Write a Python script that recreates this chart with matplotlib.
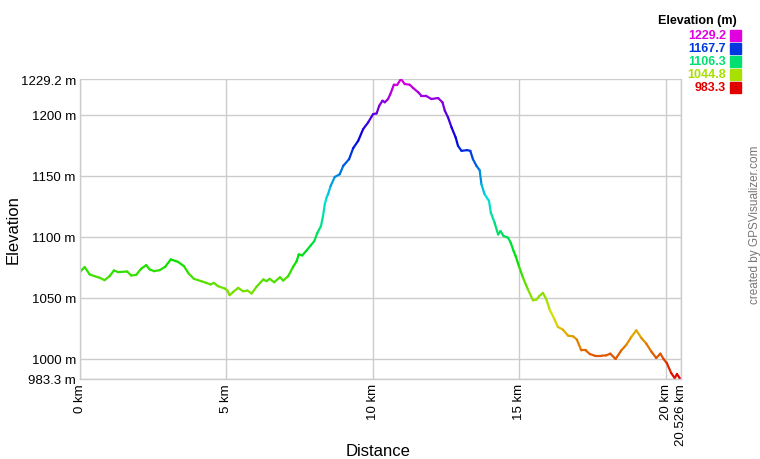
import numpy as np
import matplotlib
matplotlib.use("Agg")
import matplotlib.pyplot as plt
from matplotlib.collections import LineCollection
from matplotlib.colors import hsv_to_rgb

plt.rcParams['font.family'] = ['Liberation Sans', 'DejaVu Sans']

# distance (km) and elevation (m)
DIST_KM = [0.00, 0.02, 0.16, 0.33, 0.50, 0.67, 0.84, 1.01, 1.16, 1.30, 1.61, 1.75, 1.92,
           2.09, 2.26, 2.38, 2.53, 2.72, 2.91, 3.10, 3.34, 3.55, 3.71, 3.89, 4.14, 4.31,
           4.46, 4.57, 4.71, 4.94, 5.03, 5.11, 5.22, 5.40, 5.57, 5.72, 5.86, 6.03, 6.26,
           6.37, 6.48, 6.63, 6.83, 6.94, 7.11, 7.28, 7.40, 7.47, 7.59, 7.74, 7.88, 8.00,
           8.11, 8.23, 8.30, 8.36, 8.42, 8.47, 8.56, 8.70, 8.87, 8.99, 9.19, 9.33, 9.50,
           9.67, 9.84, 10.01, 10.13, 10.22, 10.33, 10.41, 10.52, 10.60, 10.72, 10.83,
           10.96, 11.09, 11.26, 11.38, 11.55, 11.66, 11.81, 12.00, 12.23, 12.38, 12.46,
           12.57, 12.69, 12.83, 12.91, 13.03, 13.22, 13.33, 13.42, 13.54, 13.65, 13.71,
           13.82, 13.97, 14.03, 14.16, 14.28, 14.36, 14.47, 14.62, 14.71, 14.81, 14.88,
           14.99, 15.13, 15.30, 15.47, 15.59, 15.68, 15.81, 15.93, 16.04, 16.21, 16.32,
           16.49, 16.67, 16.84, 16.97, 17.12, 17.27, 17.41, 17.58, 17.81, 17.98, 18.11,
           18.29, 18.49, 18.66, 18.83, 19.00, 19.17, 19.34, 19.51, 19.68, 19.82, 19.93,
           20.04, 20.19, 20.31, 20.39, 20.48, 20.526]
ELEV_M = [1071.0, 1071.7, 1075.0, 1069.0, 1067.6, 1066.3, 1064.3, 1067.6, 1072.3, 1070.9,
          1071.4, 1068.1, 1068.7, 1073.7, 1076.6, 1073.1, 1071.7, 1072.5, 1075.3, 1081.3,
          1079.4, 1075.8, 1069.8, 1065.4, 1063.5, 1062.1, 1060.8, 1062.1, 1059.4, 1057.5,
          1056.0, 1052.0, 1054.4, 1058.0, 1055.2, 1055.8, 1053.4, 1058.9, 1064.9, 1063.5,
          1065.4, 1062.6, 1066.7, 1064.0, 1067.6, 1075.3, 1079.9, 1085.4, 1084.6, 1088.7,
          1092.8, 1096.3, 1103.2, 1108.7, 1116.9, 1126.5, 1132.0, 1134.7, 1141.5, 1148.9,
          1151.1, 1158.0, 1163.5, 1172.5, 1178.5, 1188.1, 1193.6, 1200.4, 1201.0, 1207.3,
          1211.4, 1210.1, 1212.8, 1216.9, 1224.5, 1224.3, 1229.2, 1225.1, 1224.5, 1221.8,
          1218.3, 1215.5, 1215.5, 1212.8, 1213.6, 1210.1, 1203.2, 1197.7, 1189.5, 1181.3,
          1174.4, 1170.3, 1170.9, 1170.3, 1163.5, 1158.0, 1154.4, 1142.9, 1134.7, 1129.2,
          1119.7, 1111.4, 1101.8, 1104.5, 1100.4, 1099.1, 1095.0, 1088.1, 1084.0, 1075.8,
          1066.3, 1056.6, 1047.8, 1048.4, 1051.1, 1053.9, 1048.4, 1040.2, 1032.0, 1026.0,
          1023.8, 1018.8, 1018.3, 1015.6, 1006.8, 1006.8, 1003.8, 1002.4, 1002.4, 1002.7,
          1004.1, 999.7, 1006.8, 1011.4, 1017.8, 1023.2, 1017.0, 1012.3, 1005.9, 1000.5,
          1004.1, 999.7, 996.4, 988.2, 984.1, 987.4, 984.0, 983.3]

Y_MIN, Y_MAX = 983.3, 1229.2
Y_TICKS = [983.3, 1000, 1050, 1100, 1150, 1200, 1229.2]
Y_LABELS = ["983.3 m", "1000 m", "1050 m", "1100 m", "1150 m", "1200 m", "1229.2 m"]
X_TICKS = [0, 5, 10, 15, 20, 20.526]
X_LABELS = ["0 km", "5 km", "10 km", "15 km", "20 km", "20.526 km"]
LEGEND_VALS = [1229.2, 1167.7, 1106.3, 1044.8, 983.3]


def elev_color(v):
    t = (v - Y_MIN) / (Y_MAX - Y_MIN)
    return hsv_to_rgb([300.0 / 360.0 * t, 1.0, 0.88])


x = np.array(DIST_KM)
y = np.array(ELEV_M)

fig = plt.figure(figsize=(7.6, 4.6), dpi=100)
ax = fig.add_axes([80 / 760, 1 - 380 / 460, 601 / 760, 300 / 460])

pts = np.column_stack([x, y]).reshape(-1, 1, 2)
segs = np.concatenate([pts[:-1], pts[1:]], axis=1)
cols = [elev_color((a + b) / 2) for a, b in zip(y[:-1], y[1:])]
lc = LineCollection(segs, colors=cols, linewidths=1.6, capstyle='round', joinstyle='round')
ax.add_collection(lc)

ax.set_xlim(0, 20.526)
ax.set_ylim(Y_MIN, Y_MAX)
ax.set_yticks(Y_TICKS)
ax.set_yticklabels(Y_LABELS, fontsize=9.5)
ax.set_xticks(X_TICKS)
ax.set_xticklabels(X_LABELS, fontsize=9.5, rotation=90)
ax.tick_params(length=0, pad=3)
ax.grid(True, color='#cccccc', linewidth=1)
ax.set_axisbelow(True)
for s in ax.spines.values():
    s.set_color('#cccccc')
    s.set_linewidth(1)
ax.spines['top'].set_visible(False)

ax.set_xlabel("Distance", fontsize=12, va='center')
ax.set_ylabel("Elevation", fontsize=12, va='center', ha='center')
ax.xaxis.set_label_coords(298 / 601, -72 / 300)
ax.yaxis.set_label_coords(-67 / 601, 0.5)

# colour legend top right
fig.text(737 / 760, 1 - 21 / 460, "Elevation (m)", fontsize=9, fontweight='bold',
         ha='right', va='center')
for i, v in enumerate(LEGEND_VALS):
    yc = 1 - (36 + 13 * i) / 460
    c = elev_color(v)
    fig.text(726 / 760, yc, f"{v:.1f}", fontsize=9, fontweight='bold', color=c,
             ha='right', va='center')
    fig.patches.append(plt.Rectangle((730 / 760, yc - 5.5 / 460), 11 / 760, 11 / 460,
                                     transform=fig.transFigure, color=c, figure=fig))

fig.text(755 / 760, 1 - 225 / 460, "created by GPSVisualizer.com", fontsize=8.5,
         color='#777777', rotation=90, ha='center', va='center')

fig.savefig("out.png", dpi=100)
